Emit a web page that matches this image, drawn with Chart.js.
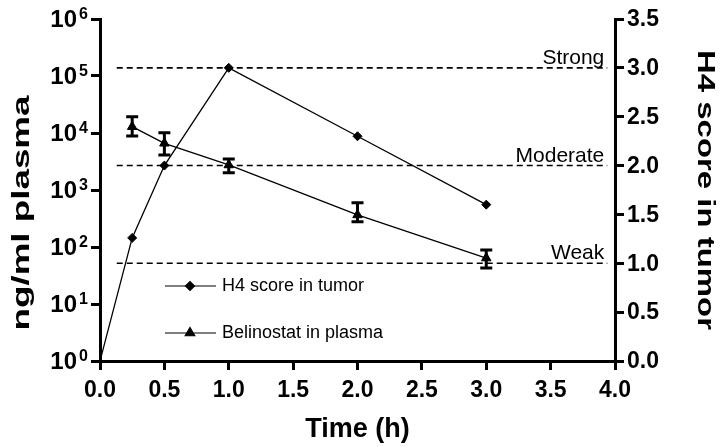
<!DOCTYPE html>
<html>
<head>
<meta charset="utf-8">
<script src="https://cdn.jsdelivr.net/npm/chart.js@4/dist/chart.umd.min.js"></script>
<style>
  html, body { margin: 0; padding: 0; background: #fff; }
  #wrap { width: 720px; height: 447px; }
</style>
</head>
<body>
<div id="wrap"><canvas id="chart" width="720" height="447"></canvas></div>
<script>
// H4 score in tumor (right axis)
const timesH4 = [0, 0.25, 0.5, 1, 2, 3];
const h4Score = [0, 1.26, 2.0, 3.0, 2.3, 1.6];

// belinostat in plasma, ng/ml (left log axis), with error bars
const timesPlasma = [0.25, 0.5, 1, 2, 3];
const plasmaMean = [12900, 6600, 2750, 365, 64];
const plasmaHigh = [19300, 10100, 3500, 600, 89];
const plasmaLow = [8900, 4100, 2000, 277, 43];

// dashed score levels
const levelValues = [3, 2, 1];
const levelNames = ['Strong', 'Moderate', 'Weak'];
const levelFrom = 0.13;
const levelTo = 3.94;

const xTickValues = [0, 0.5, 1, 1.5, 2, 2.5, 3, 3.5, 4];
const xTickLabels = ['0.0', '0.5', '1.0', '1.5', '2.0', '2.5', '3.0', '3.5', '4.0'];
const leftTickValues = [1, 10, 100, 1000, 10000, 100000, 1000000];
const leftTickExps = ['0', '1', '2', '3', '4', '5', '6'];
const rightTickValues = [0, 0.5, 1, 1.5, 2, 2.5, 3, 3.5];
const rightTickLabels = ['0.0', '0.5', '1.0', '1.5', '2.0', '2.5', '3.0', '3.5'];
const legendNames = ['H4 score in tumor', 'Belinostat in plasma'];

const FONT = '"Liberation Sans", Arial, sans-serif';

const axisGrid = { drawOnChartArea: false, drawTicks: true, tickLength: 9, lineWidth: 3, color: '#000' };
const axisBorder = { display: true, width: 3, color: '#000' };

function vTitle(ctx, s, cx, cy, angle, len) {
    ctx.save();
    ctx.translate(cx, cy);
    ctx.rotate(angle);
    ctx.font = 'bold 24px ' + FONT;
    const w = ctx.measureText(s).width;
    ctx.scale(len / w, 1);
    ctx.textAlign = 'center';
    ctx.textBaseline = 'middle';
    ctx.fillText(s, 0, 0);
    ctx.restore();
}

const decor = {
    id: 'decor',
    afterDatasetsDraw(chart) {
        const ctx = chart.ctx;
        const xs = chart.scales.x, yl = chart.scales.yL;
        ctx.save();
        ctx.strokeStyle = '#000';
        ctx.lineWidth = 3;
        for (let i = 0; i < timesPlasma.length; i++) {
            const x = xs.getPixelForValue(timesPlasma[i]);
            const y1 = yl.getPixelForValue(plasmaHigh[i]);
            const y2 = yl.getPixelForValue(plasmaLow[i]);
            ctx.beginPath();
            ctx.moveTo(x, y1); ctx.lineTo(x, y2);
            ctx.moveTo(x - 6, y1); ctx.lineTo(x + 6, y1);
            ctx.moveTo(x - 6, y2); ctx.lineTo(x + 6, y2);
            ctx.stroke();
        }
        ctx.restore();
    },
    afterDraw(chart) {
        const ctx = chart.ctx;
        const xs = chart.scales.x, yl = chart.scales.yL, yr = chart.scales.yR;
        const area = chart.chartArea;
        ctx.save();
        ctx.fillStyle = '#000';

        // x tick labels
        ctx.font = 'bold 23px ' + FONT;
        ctx.textAlign = 'center';
        ctx.textBaseline = 'alphabetic';
        xTickValues.forEach((v, i) => ctx.fillText(xTickLabels[i], xs.getPixelForValue(v), area.bottom + 36));

        // right tick labels
        ctx.textAlign = 'left';
        ctx.textBaseline = 'middle';
        rightTickValues.forEach((v, i) => ctx.fillText(rightTickLabels[i], area.right + 12, yr.getPixelForValue(v) + 1));

        // left tick labels: 10 with superscript
        leftTickValues.forEach((v, i) => {
            const y = yl.getPixelForValue(v);
            ctx.font = 'bold 24px ' + FONT;
            ctx.textAlign = 'right';
            ctx.textBaseline = 'alphabetic';
            ctx.fillText('10', area.left - 23, y + 8);
            ctx.font = 'bold 16px ' + FONT;
            ctx.textAlign = 'left';
            ctx.fillText(leftTickExps[i], area.left - 21, y);
        });

        // axis titles
        ctx.font = 'bold 27px ' + FONT;
        ctx.textAlign = 'center';
        ctx.textBaseline = 'alphabetic';
        ctx.fillText('Time (h)', (area.left + area.right) / 2, area.bottom + 76);
        vTitle(ctx, 'ng/ml plasma', 22.5, 213, -Math.PI / 2, 235);
        vTitle(ctx, 'H4 score in tumor', 705, 190, Math.PI / 2, 280);

        // level labels
        ctx.font = '21px ' + FONT;
        ctx.textAlign = 'right';
        ctx.textBaseline = 'alphabetic';
        levelValues.forEach((v, i) => ctx.fillText(levelNames[i], xs.getPixelForValue(levelTo) - 3, yr.getPixelForValue(v) - 4));

        // legend
        const rows = [286, 333];
        const styles = ['rectRot', 'triangle'];
        const radii = [4.5, 5.5];
        rows.forEach((y, i) => {
            ctx.strokeStyle = '#000';
            ctx.lineWidth = 1.2;
            ctx.beginPath();
            ctx.moveTo(165, y); ctx.lineTo(216, y);
            ctx.stroke();
            ctx.fillStyle = '#000';
            Chart.helpers.drawPoint(ctx, { pointStyle: styles[i], radius: radii[i], borderWidth: 1 }, 190, y);
            ctx.font = '18px ' + FONT;
            ctx.textAlign = 'left';
            ctx.textBaseline = 'middle';
            ctx.fillText(legendNames[i], 222, y);
        });
        ctx.restore();
    }
};

const datasets = [
    {
        label: legendNames[0],
        yAxisID: 'yR',
        data: timesH4.map((t, i) => ({ x: t, y: h4Score[i] })),
        borderColor: '#000',
        borderWidth: 1.3,
        pointStyle: 'rectRot',
        pointRadius: timesH4.map(t => t === 0 ? 0 : 4.5),
        pointBackgroundColor: '#000',
        pointBorderColor: '#000',
        pointBorderWidth: 1
    },
    {
        label: legendNames[1],
        yAxisID: 'yL',
        data: timesPlasma.map((t, i) => ({ x: t, y: plasmaMean[i] })),
        borderColor: '#000',
        borderWidth: 1.3,
        pointStyle: 'triangle',
        pointRadius: 5.5,
        pointBackgroundColor: '#000',
        pointBorderColor: '#000',
        pointBorderWidth: 1
    }
].concat(levelValues.map(v => ({
    label: '',
    yAxisID: 'yR',
    data: [{ x: levelFrom, y: v }, { x: levelTo, y: v }],
    borderColor: '#000',
    borderWidth: 1.6,
    borderDash: [6, 4],
    pointRadius: 0
})));

new Chart(document.getElementById('chart'), {
    type: 'line',
    data: { datasets: datasets },
    options: {
        responsive: false,
        animation: false,
        devicePixelRatio: 1,
        layout: { padding: { top: 19, left: 0, right: 0, bottom: 0 } },
        plugins: { legend: { display: false }, tooltip: { enabled: false } },
        scales: {
            x: {
                type: 'linear', min: 0, max: 4,
                ticks: { display: false, stepSize: 0.5 },
                grid: axisGrid, border: axisBorder,
                afterFit: s => { s.height = 86; }
            },
            yL: {
                type: 'logarithmic', position: 'left', min: 1, max: 1000000,
                ticks: { display: false },
                afterBuildTicks: s => { s.ticks = leftTickValues.map(v => ({ value: v })); },
                grid: axisGrid, border: axisBorder,
                afterFit: s => { s.width = 100; }
            },
            yR: {
                type: 'linear', position: 'right', min: 0, max: 3.5,
                ticks: { display: false, stepSize: 0.5 },
                grid: axisGrid, border: axisBorder,
                afterFit: s => { s.width = 105; }
            }
        }
    },
    plugins: [decor]
});
</script>
</body>
</html>
